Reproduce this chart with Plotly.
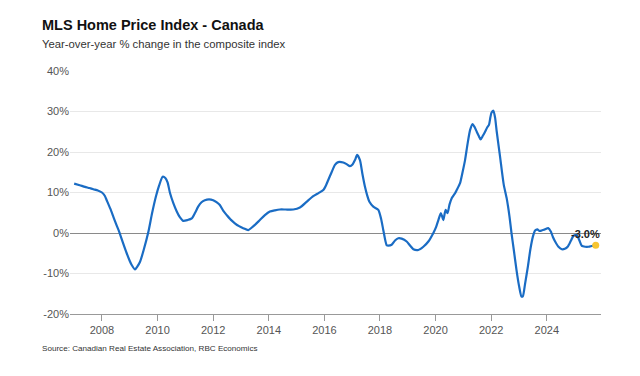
import plotly.graph_objects as go

years = [2007.00, 2007.20, 2007.39, 2007.55, 2007.69, 2007.85, 2008.00, 2008.10, 2008.17, 2008.30,
         2008.41, 2008.52, 2008.62, 2008.75, 2008.89, 2009.00, 2009.07, 2009.19, 2009.27, 2009.37,
         2009.50, 2009.67, 2009.80, 2009.94, 2010.06, 2010.18, 2010.28, 2010.36, 2010.45, 2010.57,
         2010.69, 2010.80, 2010.92, 2011.08, 2011.23, 2011.35, 2011.46, 2011.58, 2011.70, 2011.85,
         2012.00, 2012.12, 2012.24, 2012.36, 2012.49, 2012.63, 2012.78, 2012.93, 2013.08, 2013.26,
         2013.38, 2013.50, 2013.68, 2013.86, 2014.04, 2014.22, 2014.40, 2014.60, 2014.88, 2015.12,
         2015.36, 2015.60, 2015.80, 2015.96, 2016.06, 2016.14, 2016.26, 2016.38, 2016.50, 2016.68,
         2016.80, 2016.92, 2017.02, 2017.10, 2017.18, 2017.28, 2017.37, 2017.46, 2017.54, 2017.62,
         2017.76, 2017.94, 2018.04, 2018.12, 2018.24, 2018.30, 2018.42, 2018.55, 2018.66, 2018.78,
         2018.96, 2019.08, 2019.20, 2019.38, 2019.56, 2019.74, 2019.92, 2020.02, 2020.10, 2020.19,
         2020.24, 2020.28, 2020.36, 2020.43, 2020.50, 2020.58, 2020.70, 2020.76, 2020.88, 2020.97,
         2021.06, 2021.15, 2021.24, 2021.33, 2021.40, 2021.48, 2021.55, 2021.62, 2021.70, 2021.78,
         2021.85, 2021.92, 2021.97, 2022.01, 2022.08, 2022.14, 2022.20, 2022.32, 2022.45, 2022.56,
         2022.66, 2022.73, 2022.82, 2022.91, 2023.00, 2023.09, 2023.14, 2023.22, 2023.32, 2023.41,
         2023.50, 2023.58, 2023.66, 2023.74, 2023.81, 2023.93, 2024.05, 2024.15, 2024.22, 2024.30,
         2024.42, 2024.54, 2024.65, 2024.75, 2024.86, 2024.96, 2025.08, 2025.17, 2025.26, 2025.38,
         2025.50, 2025.62, 2025.76]

yoy_change = [12.2, 11.8, 11.4, 11.1, 10.8, 10.5, 10.0, 9.2, 8.1, 6.0,
              4.0, 2.0, 0.3, -2.3, -5.0, -6.9, -7.9, -9.0, -8.3, -7.1,
              -4.2, 0.3, 4.8, 9.0, 11.8, 13.9, 13.6, 12.5, 9.8, 7.3,
              5.3, 3.9, 3.0, 3.2, 3.6, 5.0, 6.5, 7.6, 8.1, 8.3,
              8.1, 7.6, 6.9, 5.5, 4.4, 3.3, 2.4, 1.7, 1.2, 0.7,
              1.3, 2.0, 3.2, 4.4, 5.3, 5.6, 5.8, 5.8, 5.8, 6.3,
              7.7, 9.1, 9.9, 10.6, 11.8, 13.1, 15.0, 16.8, 17.5, 17.4,
              17.0, 16.5, 17.0, 18.0, 19.3, 18.0, 14.5, 11.4, 9.3, 7.7,
              6.5, 5.7, 3.5, 0.7, -3.0, -3.1, -2.9, -1.8, -1.3, -1.4,
              -2.1, -3.1, -4.0, -4.2, -3.4, -2.1, 0.0, 1.5, 3.2, 4.9,
              4.0, 3.2, 5.7, 4.9, 7.0, 8.6, 9.8, 10.6, 12.3, 15.0,
              18.0, 22.0, 25.4, 26.9, 26.2, 25.0, 24.0, 23.1, 24.0, 25.0,
              26.0, 26.7, 28.5, 29.7, 30.2, 28.5, 25.0, 18.8, 12.0, 8.5,
              4.0, 0.0, -4.5, -9.1, -13.0, -15.7, -15.6, -12.5, -8.3, -4.0,
              -0.9, 0.6, 0.9, 0.5, 0.6, 0.9, 1.2, 0.3, -1.0, -2.1,
              -3.4, -4.0, -3.9, -3.4, -2.0, -0.7, -0.5, -1.8, -3.2, -3.4,
              -3.4, -3.2, -3.0]

tick_years = [2008, 2010, 2012, 2014, 2016, 2018, 2020, 2022, 2024]
tick_labels = [str(y) for y in tick_years]
y_ticks = [-20, -10, 0, 10, 20, 30, 40]
y_labels = ["-20%", "-10%", "0%", "10%", "20%", "30%", "40%"]

last_label = "-3.0%"

FONT = "Liberation Sans, Arial, sans-serif"

fig = go.Figure()
fig.add_trace(go.Scatter(x=years, y=yoy_change, mode="lines",
                         line=dict(color="#1a6cc4", width=2.2, shape="spline", smoothing=0.6),
                         hoverinfo="skip"))
fig.add_trace(go.Scatter(x=[years[-1]], y=[yoy_change[-1]], mode="markers",
                         marker=dict(color="#f7c531", size=7), hoverinfo="skip"))

fig.add_annotation(x=years[-1], y=yoy_change[-1], xref="x", yref="y", text="<b>" + last_label + "</b>",
                   showarrow=False, xanchor="right", yanchor="bottom", xshift=6, yshift=3,
                   font=dict(family=FONT, size=11, color="#222"))

fig.add_annotation(x=-0.0565, y=1.189, xref="paper", yref="paper", text="<b>MLS Home Price Index - Canada</b>",
                   showarrow=False, xanchor="left", yanchor="middle",
                   font=dict(family=FONT, size=14.5, color="#111"))
fig.add_annotation(x=-0.0565, y=1.111, xref="paper", yref="paper",
                   text="Year-over-year % change in the composite index",
                   showarrow=False, xanchor="left", yanchor="middle",
                   font=dict(family=FONT, size=11.3, color="#333"))
fig.add_annotation(x=-0.0565, y=-0.144, xref="paper", yref="paper",
                   text="Source: Canadian Real Estate Association, RBC Economics",
                   showarrow=False, xanchor="left", yanchor="middle",
                   font=dict(family=FONT, size=8.1, color="#333"))

fig.update_layout(
    width=640, height=376,
    margin=dict(l=62, r=47, t=63, b=70),
    paper_bgcolor="white", plot_bgcolor="white",
    showlegend=False,
    font=dict(family=FONT, size=11, color="#555"),
)
fig.update_xaxes(range=[2006.85, 2025.95], tickvals=tick_years, ticktext=tick_labels,
                 showgrid=False, zeroline=False, showline=True, linecolor="#999", linewidth=1,
                 ticks="outside", ticklen=6, tickcolor="#999", tickfont=dict(size=11, color="#555"))
fig.update_yaxes(range=[-20, 40], tickvals=y_ticks, ticktext=y_labels,
                 showgrid=True, gridcolor="#e8e8e8", gridwidth=1,
                 zeroline=True, zerolinecolor="#8a8a8a", zerolinewidth=1,
                 showline=False, ticks="", ticklen=0, tickfont=dict(size=11, color="#555"))

fig.write_html("out.html")
